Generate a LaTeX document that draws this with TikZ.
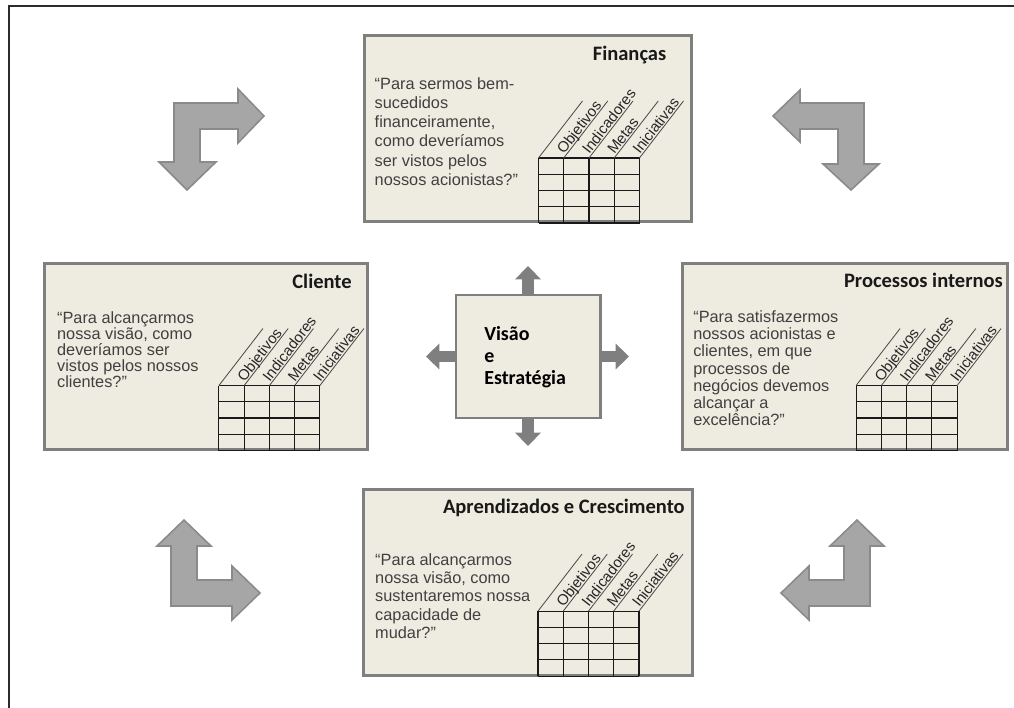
\documentclass[tikz,border=0pt]{standalone}
\usepackage{fontspec}
\setmainfont{Liberation Sans}
\newfontfamily\calibri{Carlito}
\usetikzlibrary{arrows.meta, positioning}

\definecolor{boxfill}{HTML}{EEECE1}
\definecolor{boxgray}{HTML}{7F7F7F}
\definecolor{arrowfill}{HTML}{A6A6A6}
\definecolor{arrowedge}{HTML}{8A8A8A}
\definecolor{textgray}{HTML}{404040}
\definecolor{framegray}{HTML}{2B2B2B}

\tikzset{
  bscbox/.style={rectangle, draw=boxgray, fill=boxfill, line width=2.1pt, inner sep=0pt, outer sep=0pt, minimum height=4.65cm},
  boxtitle/.style={anchor=base east, inner sep=0pt, font=\calibri\bfseries\fontsize{14.6}{17}\selectfont, text=black!90},
  boxtext/.style={anchor=north west, inner sep=0pt, align=left, text=textgray, font=\fontsize{11.6}{#1}\selectfont},
  boxtext/.default=13.7,
  collabel/.style={anchor=base west, rotate=52.3, inner sep=0pt, font=\fontsize{10.6}{12}\selectfont, text=black!85},
  gridline/.style={draw=black!90, line width=0.8pt},
  diagline/.style={draw=black!70, line width=0.6pt},
  bigarrow/.style={fill=arrowfill, draw=arrowedge, line width=1.1pt, line join=miter},
  smallarrow/.style={draw=boxgray, line width=8.2pt, -{Triangle[width=17.8pt,length=9.5pt]}},
  pics/scgrid/.style={code={
    \foreach \c in {0,...,4} \draw[gridline] (\c*25.25,1) -- (\c*25.25,-64);
    \foreach \r in {0,...,4} \draw[gridline] (0,1-\r*16.25) -- (101,1-\r*16.25);
    \foreach \c in {0,...,4} \draw[diagline] (\c*25.25,-64) -- ++(44,-57);
    \foreach \lab [count=\c] in {Objetivos,Indicadores,Metas,Iniciativas}
      \node[collabel] (-l\c) at (\c*25.25+0.3,-66.9) {\lab};
  }}
}

\begin{document}
\begin{tikzpicture}[x=0.025cm, y=-0.025cm]
  \useasboundingbox (0,0) rectangle (1014,708);
  % frame of the page
  \draw[framegray, line width=1.8pt] (9,708) -- (9,6) -- (1014,6);

  % centre and the four perspectives
  \node (vis) [bscbox, minimum width=3.6cm, minimum height=3.075cm] at (528,356.5) {};
  \node (fin) [bscbox, minimum width=8.175cm, above=1.825cm of vis] {};
  \node (cli) [bscbox, minimum width=8.075cm, left=2.2cm of vis] {};
  \node (proc) [bscbox, minimum width=8.125cm, right=2.05cm of vis] {};
  \node (apr) [bscbox, minimum width=8.2cm, below=1.775cm of vis] {};

  \node (vistext) [anchor=north west, inner sep=0pt, align=left, font=\calibri\bfseries\fontsize{14.2}{15.8}\selectfont]
    at ([shift={(28,31)}]vis.north west) {Visão\\e\\Estratégia};

  % grids
  \pic (fingrid) at ([xshift=4.35cm]fin.south west) {scgrid};
  \pic (cligrid) at ([xshift=4.35cm]cli.south west) {scgrid};
  \pic (procgrid) at ([xshift=4.35cm]proc.south west) {scgrid};
  \pic (aprgrid) at ([xshift=4.35cm]apr.south west) {scgrid};

  % titles
  \node (fintitle) [boxtitle] at ([shift={(-25,25)}]fin.north east) {Finanças};
  \node (clititle) [boxtitle] at ([shift={(-16,25)}]cli.north east) {Cliente};
  \node (proctitle) [boxtitle] at ([shift={(-4,24)}]proc.north east) {Processos internos};
  \node (aprtitle) [boxtitle] at ([shift={(-7,24)}]apr.north east) {Aprendizados e Crescimento};

  % questions
  \node (fintext) [boxtext] at ([shift={(10,41)}]fin.north west)
    {“Para sermos bem-\\sucedidos\\financeiramente,\\como deveríamos\\ser vistos pelos\\nossos acionistas?”};
  \node (clitext) [boxtext=11.4] at ([shift={(12,48)}]cli.north west)
    {“Para alcançarmos\\nossa visão, como\\deveríamos ser\\vistos pelos nossos\\clientes?”};
  \node (proctext) [boxtext=12.2] at ([shift={(11,47)}]proc.north west)
    {“Para satisfazermos\\nossos acionistas e\\clientes, em que\\processos de\\negócios devemos\\alcançar a\\excelência?”};
  \node (aprtext) [boxtext=13.1] at ([shift={(11,64)}]apr.north west)
    {“Para alcançarmos\\nossa visão, como\\sustentaremos nossa\\capacidade de\\mudar?”};

  % small arrows out of the centre
  \path (vis.north) ++(0,-29) coordinate (tipN);
  \path (vis.south) ++(0,28) coordinate (tipS);
  \path (vis.west) ++(-30,0) coordinate (tipW);
  \path (vis.east) ++(29,0) coordinate (tipE);
  \draw[smallarrow] (vis.north) -- (tipN);
  \draw[smallarrow] (vis.south) -- (tipS);
  \draw[smallarrow] (vis.west) -- (tipW);
  \draw[smallarrow] (vis.east) -- (tipE);

  % bent arrows in the corners
  \draw[bigarrow] (174,103) -- (238,103) -- (238,89) -- (264,116) -- (238,143) -- (238,129) -- (200,129)
    -- (200,162) -- (216,162) -- (187,190) -- (159,162) -- (174,162) -- cycle;
  \draw[bigarrow] (864,103) -- (800,103) -- (800,90) -- (773,116) -- (800,142) -- (800,129) -- (838,129)
    -- (838,164) -- (823,164) -- (851,190) -- (879,164) -- (864,164) -- cycle;
  \draw[bigarrow] (870,606) -- (809,606) -- (809,620) -- (781,593) -- (809,566) -- (809,580) -- (844,580)
    -- (844,546) -- (830,546) -- (857,520) -- (884,546) -- (870,546) -- cycle;
  \draw[bigarrow] (171,606) -- (232,606) -- (232,620) -- (260,593) -- (232,566) -- (232,580) -- (197,580)
    -- (197,546) -- (211,546) -- (184,520) -- (157,546) -- (171,546) -- cycle;
\end{tikzpicture}
\end{document}
